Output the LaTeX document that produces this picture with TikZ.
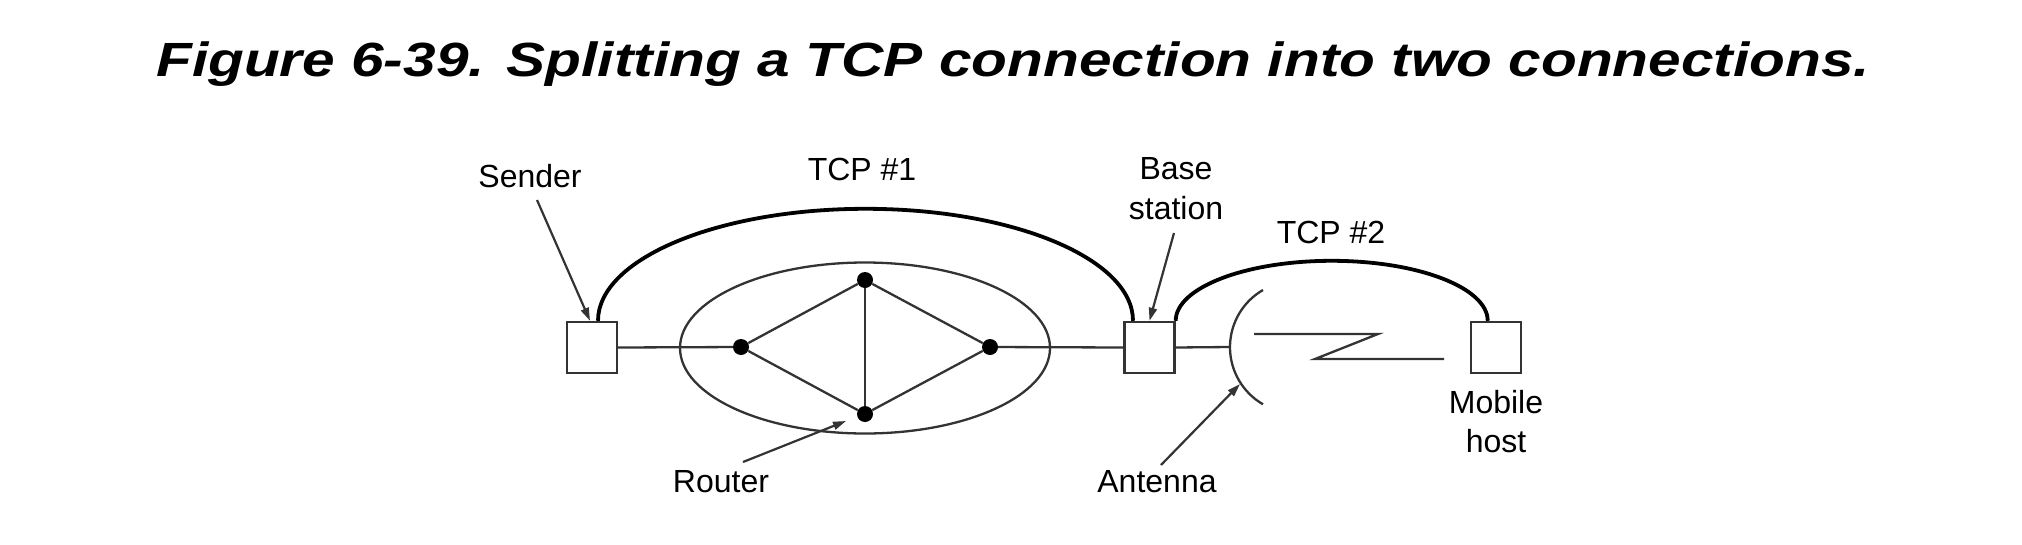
\documentclass[tikz,border=0pt]{standalone}
\usepackage{fontspec}
\setmainfont{Liberation Sans}
\usetikzlibrary{arrows.meta,shapes.geometric}
\begin{document}
\begin{tikzpicture}[x=1pt,y=-1pt,
  lbl/.style={font=\fontsize{32}{36}\selectfont, inner sep=0pt, anchor=base},
  box/.style={draw=black!80, line width=2.4pt, minimum width=50pt, minimum height=51pt, inner sep=0pt},
  thinln/.style={draw=black!80, line width=2.3pt},
  tcp/.style={draw=black, line width=3.8pt},
  ptr/.style={draw=black!80, line width=2.2pt, -{Triangle[length=13pt,width=8pt]}},
  dot/.style={circle, fill=black, inner sep=0pt, minimum size=16pt}]
\useasboundingbox (0,0) rectangle (2022,544);
\fill[white] (0,0) rectangle (2022,544);
% title
\node[anchor=base, inner sep=0pt] (title) at (1013,76) {\scalebox{1.22}[1]{\fontsize{48}{50}\selectfont\bfseries\itshape Figure 6-39. Splitting a TCP connection into two connections.}};
% boxes
\node[box] (snd) at (592,347.5) {};
\node[box] (bs) at (1149.5,347.5) {};
\node[box] (mh) at (1496,347.5) {};
% network cloud
\node[ellipse, thinln, minimum width=370pt, minimum height=171pt, inner sep=0pt] (net) at (865,348) {};
% routers
\node[dot] (rl) at (741,347) {};
\node[dot] (rt) at (865,280) {};
\node[dot] (rr) at (990,347) {};
\node[dot] (rb) at (865,414) {};
% wired links
\draw[thinln] (snd.east) -- (rl);
\draw[thinln] (rl) -- (rt);
\draw[thinln] (rl) -- (rb);
\draw[thinln] (rt) -- (rr);
\draw[thinln] (rb) -- (rr);
\draw[thinln] (rt) -- (rb);
\draw[thinln] (rr) -- (bs.west);
% antenna
\coordinate (antL) at (1230,347);
\coordinate (antT) at (1263,290);
\coordinate (antP) at (1240,384);
\draw[thinln] (bs.east) -- (antL);
\draw[thinln] (antT) arc[start angle=-120, end angle=-240, radius=66];
% radio zigzag
\coordinate (z1) at (1254,334);
\coordinate (z2) at (1378,334);
\coordinate (z3) at (1315,359);
\coordinate (z4) at (1444,359);
\draw[thinln, line join=miter] (z1) -- (z2) -- (z3) -- (z4);
% TCP connections
\draw[tcp] ([xshift=6pt]snd.north) arc[start angle=180, end angle=360, x radius=267.5, y radius=112];
\draw[tcp] (bs.north east) arc[start angle=180, end angle=360, x radius=156, y radius=60];
% labels
\node[lbl] (lsnd) at (530,187) {Sender};
\node[lbl] (ltcp1) at (862,180) {TCP \#1};
\node[lbl] (lbs1) at (1176,179) {Base};
\node[lbl] (lbs2) at (1176,219) {station};
\node[lbl] (ltcp2) at (1331,243) {TCP \#2};
\node[lbl] (lmh1) at (1496,413) {Mobile};
\node[lbl] (lmh2) at (1496,452) {host};
\node[lbl] (lrt) at (721,492) {Router};
\node[lbl] (lant) at (1157,492) {Antenna};
% pointers
\coordinate (ps) at (537,200);
\coordinate (pb) at (1174,233);
\coordinate (pr) at (743,462);
\coordinate (pa) at (1161,465);
\coordinate (prt) at (846,421);
\draw[ptr] (ps) -- ([xshift=-2pt]snd.north);
\draw[ptr] (pb) -- (bs.north);
\draw[ptr] (pr) -- (prt);
\draw[ptr] (pa) -- (antP);
\end{tikzpicture}
\end{document}
